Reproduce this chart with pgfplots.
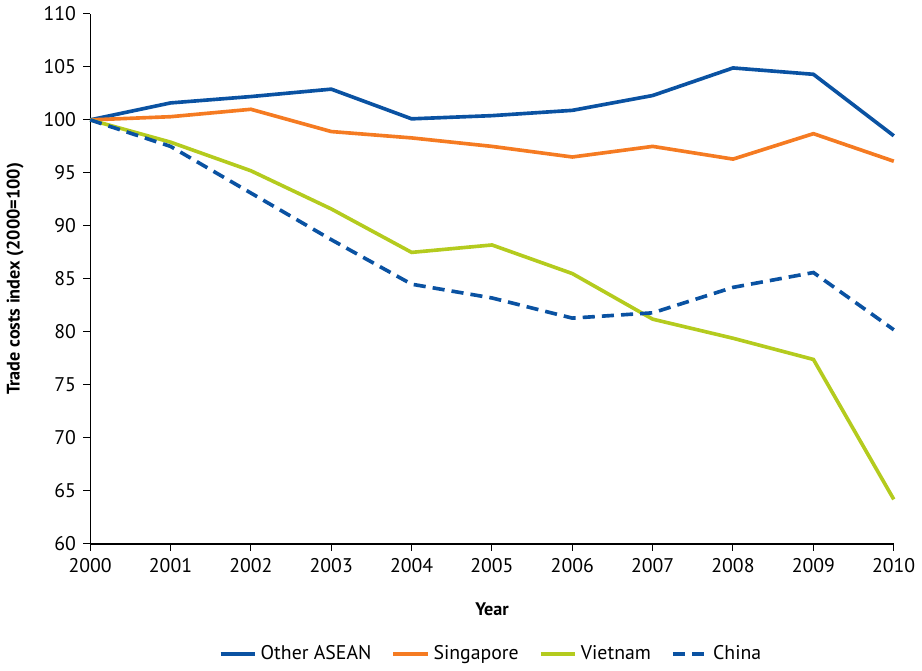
\documentclass[border=0pt]{standalone}
\usepackage{fontspec}
\setmainfont{PT Sans}
\usepackage{pgfplots}
\pgfplotsset{compat=1.18}
\definecolor{aseanblue}{HTML}{0A52A2}
\definecolor{sgorange}{HTML}{F57B22}
\definecolor{vnlime}{HTML}{B4CB1E}
\begin{document}
\begin{tikzpicture}
\begin{axis}[
  width=398pt, height=262.5pt, scale only axis,
  xmin=2000, xmax=2010, ymin=60, ymax=110,
  xtick={2000,...,2010}, ytick={60,65,...,110},
  /pgf/number format/assume math mode=true,
  x tick label style={/pgf/number format/1000 sep={}},
  tick label style={font=\fontsize{9.8}{10}\selectfont},
  axis x line*=bottom, axis y line*=left,
  axis line style={black, line width=0.6pt},
  tick style={black, line width=0.5pt},
  tick align=outside, major tick length=3.5pt,
  xlabel={\textbf{Year}}, ylabel={\textbf{Trade costs index (2000=100)}},
  label style={font=\fontsize{9}{10}\selectfont},
  xlabel style={yshift=-8pt},
  ylabel style={yshift=3pt},
  clip=false,
  legend style={at={(0.5,-0.175)}, anchor=north, draw=none, legend columns=4,
    font=\fontsize{9.8}{10}\selectfont,
    /tikz/every even column/.append style={column sep=8pt}},
  legend image code/.code={\draw[#1] (0pt,0pt) -- (17pt,0pt);},
  every axis plot/.append style={line width=1.8pt},
]
\addplot[aseanblue] coordinates {(2000,100)(2001,101.6)(2002,102.2)(2003,102.9)(2004,100.1)(2005,100.4)(2006,100.9)(2007,102.3)(2008,104.9)(2009,104.3)(2010,98.5)};
\addplot[sgorange] coordinates {(2000,100)(2001,100.3)(2002,101.0)(2003,98.9)(2004,98.3)(2005,97.5)(2006,96.5)(2007,97.5)(2008,96.3)(2009,98.7)(2010,96.1)};
\addplot[vnlime] coordinates {(2000,100)(2001,97.9)(2002,95.2)(2003,91.6)(2004,87.5)(2005,88.2)(2006,85.5)(2007,81.2)(2008,79.4)(2009,77.4)(2010,64.2)};
\addplot[aseanblue, dash pattern=on 6pt off 3.5pt] coordinates {(2000,100)(2001,97.5)(2002,93.1)(2003,88.7)(2004,84.5)(2005,83.2)(2006,81.3)(2007,81.8)(2008,84.2)(2009,85.6)(2010,80.2)};
\legend{Other ASEAN, Singapore, Vietnam, China}
\end{axis}
\end{tikzpicture}
\end{document}
